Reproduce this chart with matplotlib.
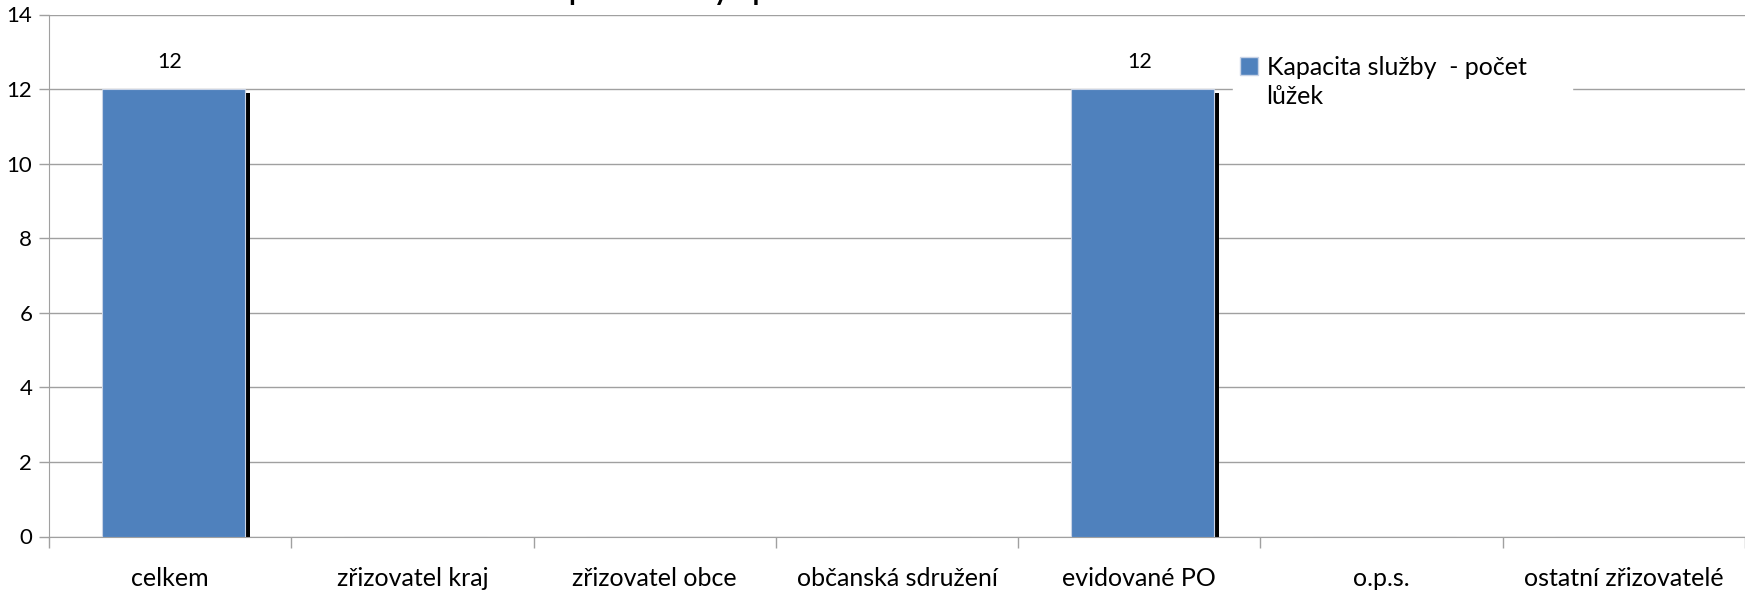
import numpy as np
import matplotlib.pyplot as plt
from matplotlib.patches import Patch

plt.rcParams['font.family'] = ['Lato', 'DejaVu Sans']

categories = ['celkem', 'zřizovatel kraj', 'zřizovatel obce', 'občanská sdružení',
              'evidované PO', 'o.p.s.', 'ostatní zřizovatelé']
values = [12, 0, 0, 0, 12, 0, 0]
series_name = ['Kapacita služby  - počet', 'lůžek']
title = 'Kapacita služby - počet lůžek'

W, H = 1745, 597
fig = plt.figure(figsize=(W / 100, H / 100), dpi=100)
ax = fig.add_axes([49 / W, 1 - 536.5 / H, 1696 / W, 522 / H])

x = np.arange(len(categories))
bw = 0.59
blue = '#4f81bd'
grey = '#a0a0a0'

# shadow behind each bar (only for nonzero values)
for xi, v in zip(x, values):
    if v > 0:
        ax.bar(xi + 0.035, v - 0.1, width=bw, color='black', zorder=2)
ax.bar(x + 0.012, values, width=bw, color=blue, edgecolor='#c8d3e6', linewidth=0.8, zorder=3)

for xi, v in zip(x, values):
    if v > 0:
        ax.text(xi, v + 0.45, str(v), ha='center', va='bottom', fontsize=15.5, color='black')

ax.set_xlim(-0.5, len(categories) - 0.5)
ax.set_ylim(0, 14)
ax.set_yticks(range(0, 15, 2))
ax.yaxis.grid(True, color=grey, linewidth=1)
ax.set_axisbelow(True)

ax.set_xticks(x)
ax.set_xticklabels(categories, fontsize=18)
ax.set_xticks(np.arange(-0.5, len(categories), 1), minor=True)
ax.tick_params(axis='x', which='major', length=0, pad=22)
ax.tick_params(axis='x', which='minor', length=8, color=grey, width=1)
ax.tick_params(axis='y', length=7, color=grey, width=1, labelsize=16, pad=5)

for s in ['top', 'right']:
    ax.spines[s].set_visible(False)
for s in ['left', 'bottom']:
    ax.spines[s].set_color(grey)

# legend: wrapped label, the second line gets an invisible handle
handles = [Patch(facecolor=blue, edgecolor='#c8d3e6'),
           Patch(facecolor='none', edgecolor='none')]
leg = ax.legend(handles=handles, labels=[series_name[0] + '      ', series_name[1]],
                loc='upper left', bbox_to_anchor=(0.698, 0.935),
                bbox_transform=ax.transAxes, frameon=True, fontsize=18,
                handlelength=0.7, handleheight=0.7, handletextpad=0.35,
                borderaxespad=0, borderpad=0.3, labelspacing=0.25)
frame = leg.get_frame()
frame.set_edgecolor('white')
frame.set_facecolor('white')
frame.set_alpha(1)
frame.set_boxstyle('square', pad=0.0)
leg.set_zorder(5)

fig.text(0.41, 1.0, title, ha='center', va='baseline', fontsize=20, fontweight='bold')

fig.savefig('out.png', dpi=100)
